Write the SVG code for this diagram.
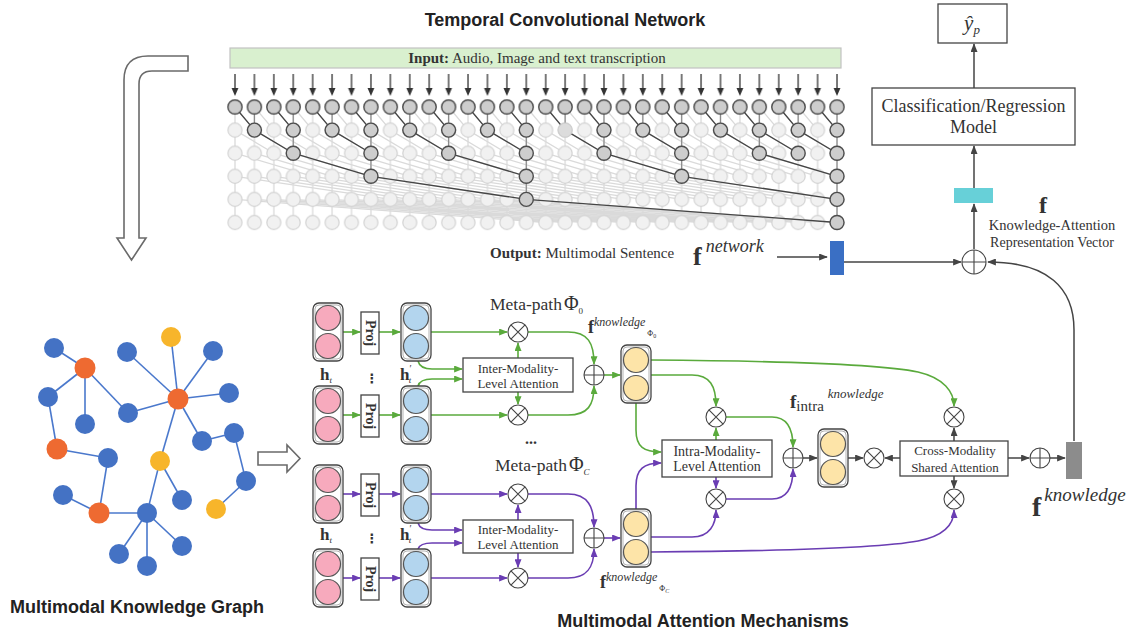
<svg xmlns="http://www.w3.org/2000/svg" width="1134" height="633" viewBox="0 0 1134 633">
<defs>
<style>
.tt{font-family:"Liberation Sans",Arial,sans-serif;font-weight:bold;font-size:18px;fill:#222}
.sf{font-family:"Liberation Serif","Times New Roman",serif;fill:#333}
.box{fill:#fff;stroke:#444;stroke-width:1.3}
.stk{fill:#fff;stroke:#444;stroke-width:1.3}
.stki{fill:none;stroke:#aaa;stroke-width:0.9}
.pk{fill:#f7aabd;stroke:#555;stroke-width:1.2}
.bl{fill:#b3d5ee;stroke:#555;stroke-width:1.2}
.yl{fill:#fde4a8;stroke:#555;stroke-width:1.2}
.op{fill:#fff;stroke:#444;stroke-width:1.1}
.g{fill:none;stroke:#5aaa3c;stroke-width:1.6}
.p{fill:none;stroke:#6a3db3;stroke-width:1.6}
.k{fill:none;stroke:#444;stroke-width:1.5}
.lt{fill:none;stroke:#dadada;stroke-width:1.3}
.dk{fill:none;stroke:#454545;stroke-width:1.3}
.dv{fill:none;stroke:#8a8a8a;stroke-width:1.2}
.dn{fill:#cdcdcd;stroke:#4d4d4d;stroke-width:1.4}
.ge{stroke:#4a78cc;stroke-width:1.6}
.gb{fill:#4472c4}.go{fill:#ee6a31}.gy{fill:#f7b52b}
.hol{fill:#fff;stroke:#6a6a6a;stroke-width:1.6}
</style>
<marker id="ahG" viewBox="0 0 10 8" refX="9" refY="4" markerWidth="9" markerHeight="7" markerUnits="userSpaceOnUse" orient="auto"><path d="M0,0L10,4L0,8z" fill="#5aaa3c"/></marker>
<marker id="ahP" viewBox="0 0 10 8" refX="9" refY="4" markerWidth="9" markerHeight="7" markerUnits="userSpaceOnUse" orient="auto"><path d="M0,0L10,4L0,8z" fill="#6a3db3"/></marker>
<marker id="ahK" viewBox="0 0 10 8" refX="9" refY="4" markerWidth="9" markerHeight="7" markerUnits="userSpaceOnUse" orient="auto"><path d="M0,0L10,4L0,8z" fill="#444"/></marker>
<pattern id="lightNode" patternUnits="userSpaceOnUse" x="225.29" y="95.45" width="19.42" height="23.1"><circle cx="9.71" cy="11.55" r="7" fill="#f1f1f1" stroke="#d3d3d3" stroke-width="1.2"/></pattern>
<pattern id="darkNode" patternUnits="userSpaceOnUse" x="225.29" y="95.45" width="19.42" height="23.1"><circle cx="9.71" cy="11.55" r="7" class="dn"/></pattern>
<pattern id="vLine" patternUnits="userSpaceOnUse" x="225.29" y="107" width="19.42" height="10"><path d="M9.71,0V10" stroke="#dadada" stroke-width="1.3"/></pattern>
<pattern id="inArrow" patternUnits="userSpaceOnUse" x="225.29" y="72" width="19.42" height="27"><path d="M9.71,2V17" stroke="#333" stroke-width="1.3"/><path d="M6.3,16H13.1L9.71,24z" fill="#333"/></pattern>
<circle id="dnode" r="7" class="dn"/>
<g id="frame"><rect width="30" height="58" rx="6" class="stk"/><rect x="2" y="2" width="26" height="54" rx="4" class="stki"/></g>
<g id="otimes"><circle class="op" r="10"/><path d="M-7.07,-7.07L7.07,7.07M-7.07,7.07L7.07,-7.07" stroke="#444" stroke-width="1.1"/></g>
<g id="oplus"><circle class="op" r="10"/><path d="M-10,0H10M0,-10V10" stroke="#444" stroke-width="1.1"/></g>
</defs>

<rect width="1134" height="633" fill="#fff"/>

<!-- Temporal convolutional network -->
<g id="tcn">
<text class="tt" x="565" y="26" text-anchor="middle">Temporal Convolutional Network</text>
<rect x="230" y="48" width="611" height="20" fill="#d9f0cf" stroke="#c2c2c2" stroke-width="1.2"/>
<text class="sf" x="537" y="63" font-size="15" text-anchor="middle" fill="#222"><tspan font-weight="bold">Input:</tspan> Audio, Image and text transcription</text>
<rect x="225.29" y="72" width="621.44" height="27" fill="url(#inArrow)"/>
<!-- full dilated network, background -->
<rect x="225.29" y="107" width="621.44" height="115.5" fill="url(#vLine)"/>
<path class="lt" d="M235,107l19.42,23.1
m0,-23.1l19.42,23.1m0,-23.1l19.42,23.1m0,-23.1l19.42,23.1m0,-23.1l19.42,23.1m0,-23.1l19.42,23.1m0,-23.1l19.42,23.1m0,-23.1l19.42,23.1m0,-23.1l19.42,23.1m0,-23.1l19.42,23.1m0,-23.1l19.42,23.1
m0,-23.1l19.42,23.1m0,-23.1l19.42,23.1m0,-23.1l19.42,23.1m0,-23.1l19.42,23.1m0,-23.1l19.42,23.1m0,-23.1l19.42,23.1m0,-23.1l19.42,23.1m0,-23.1l19.42,23.1m0,-23.1l19.42,23.1m0,-23.1l19.42,23.1
m0,-23.1l19.42,23.1m0,-23.1l19.42,23.1m0,-23.1l19.42,23.1m0,-23.1l19.42,23.1m0,-23.1l19.42,23.1m0,-23.1l19.42,23.1m0,-23.1l19.42,23.1m0,-23.1l19.42,23.1m0,-23.1l19.42,23.1m0,-23.1l19.42,23.1"/>
<path class="lt" d="M235,130.1l38.84,23.1
m-19.42,-23.1l38.84,23.1m-19.42,-23.1l38.84,23.1m-19.42,-23.1l38.84,23.1m-19.42,-23.1l38.84,23.1m-19.42,-23.1l38.84,23.1m-19.42,-23.1l38.84,23.1m-19.42,-23.1l38.84,23.1m-19.42,-23.1l38.84,23.1m-19.42,-23.1l38.84,23.1m-19.42,-23.1l38.84,23.1
m-19.42,-23.1l38.84,23.1m-19.42,-23.1l38.84,23.1m-19.42,-23.1l38.84,23.1m-19.42,-23.1l38.84,23.1m-19.42,-23.1l38.84,23.1m-19.42,-23.1l38.84,23.1m-19.42,-23.1l38.84,23.1m-19.42,-23.1l38.84,23.1m-19.42,-23.1l38.84,23.1m-19.42,-23.1l38.84,23.1
m-19.42,-23.1l38.84,23.1m-19.42,-23.1l38.84,23.1m-19.42,-23.1l38.84,23.1m-19.42,-23.1l38.84,23.1m-19.42,-23.1l38.84,23.1m-19.42,-23.1l38.84,23.1m-19.42,-23.1l38.84,23.1m-19.42,-23.1l38.84,23.1m-19.42,-23.1l38.84,23.1"/>
<path class="lt" d="M235,153.2l77.68,23.1
m-58.26,-23.1l77.68,23.1m-58.26,-23.1l77.68,23.1m-58.26,-23.1l77.68,23.1m-58.26,-23.1l77.68,23.1m-58.26,-23.1l77.68,23.1m-58.26,-23.1l77.68,23.1m-58.26,-23.1l77.68,23.1m-58.26,-23.1l77.68,23.1m-58.26,-23.1l77.68,23.1m-58.26,-23.1l77.68,23.1
m-58.26,-23.1l77.68,23.1m-58.26,-23.1l77.68,23.1m-58.26,-23.1l77.68,23.1m-58.26,-23.1l77.68,23.1m-58.26,-23.1l77.68,23.1m-58.26,-23.1l77.68,23.1m-58.26,-23.1l77.68,23.1m-58.26,-23.1l77.68,23.1m-58.26,-23.1l77.68,23.1m-58.26,-23.1l77.68,23.1
m-58.26,-23.1l77.68,23.1m-58.26,-23.1l77.68,23.1m-58.26,-23.1l77.68,23.1m-58.26,-23.1l77.68,23.1m-58.26,-23.1l77.68,23.1m-58.26,-23.1l77.68,23.1m-58.26,-23.1l77.68,23.1"/>
<path class="lt" d="M235,176.3l155.36,23.1
m-135.94,-23.1l155.36,23.1m-135.94,-23.1l155.36,23.1m-135.94,-23.1l155.36,23.1m-135.94,-23.1l155.36,23.1m-135.94,-23.1l155.36,23.1m-135.94,-23.1l155.36,23.1m-135.94,-23.1l155.36,23.1m-135.94,-23.1l155.36,23.1m-135.94,-23.1l155.36,23.1m-135.94,-23.1l155.36,23.1
m-135.94,-23.1l155.36,23.1m-135.94,-23.1l155.36,23.1m-135.94,-23.1l155.36,23.1m-135.94,-23.1l155.36,23.1m-135.94,-23.1l155.36,23.1m-135.94,-23.1l155.36,23.1m-135.94,-23.1l155.36,23.1m-135.94,-23.1l155.36,23.1m-135.94,-23.1l155.36,23.1m-135.94,-23.1l155.36,23.1
m-135.94,-23.1l155.36,23.1m-135.94,-23.1l155.36,23.1m-135.94,-23.1l155.36,23.1"/>
<path class="lt" d="M235,199.4l310.72,23.1
m-291.3,-23.1l310.72,23.1m-291.3,-23.1l310.72,23.1m-291.3,-23.1l310.72,23.1m-291.3,-23.1l310.72,23.1m-291.3,-23.1l310.72,23.1m-291.3,-23.1l310.72,23.1m-291.3,-23.1l310.72,23.1m-291.3,-23.1l310.72,23.1m-291.3,-23.1l310.72,23.1m-291.3,-23.1l310.72,23.1
m-291.3,-23.1l310.72,23.1m-291.3,-23.1l310.72,23.1m-291.3,-23.1l310.72,23.1m-291.3,-23.1l310.72,23.1m-291.3,-23.1l310.72,23.1"/>
<rect x="225.29" y="95.45" width="621.44" height="138.6" fill="url(#lightNode)"/>
<!-- receptive-field path -->
<path class="dv" d="M254.42,107v23.1
m38.84,-23.1v23.1m38.84,-23.1v23.1m38.84,-23.1v23.1m38.84,-23.1v23.1m38.84,-23.1v23.1m38.84,-23.1v23.1m38.84,-23.1v23.1m38.84,-23.1v23.1m38.84,-23.1v23.1m38.84,-23.1v23.1
m38.84,-23.1v23.1m38.84,-23.1v23.1m38.84,-23.1v23.1m38.84,-23.1v23.1m38.84,-23.1v23.1
M293.26,130.1v23.1m77.68,-23.1v23.1m77.68,-23.1v23.1m77.68,-23.1v23.1m77.68,-23.1v23.1m77.68,-23.1v23.1m77.68,-23.1v23.1m77.68,-23.1v23.1
M370.94,153.2v23.1m155.36,-23.1v23.1m155.36,-23.1v23.1m155.36,-23.1v23.1
M526.3,176.3v23.1M837.02,176.3v23.1M837.02,199.4v23.1"/>
<path class="dk" d="M235,107l19.42,23.1
m19.42,-23.1l19.42,23.1m19.42,-23.1l19.42,23.1m19.42,-23.1l19.42,23.1m19.42,-23.1l19.42,23.1m19.42,-23.1l19.42,23.1m19.42,-23.1l19.42,23.1m19.42,-23.1l19.42,23.1m19.42,-23.1l19.42,23.1m19.42,-23.1l19.42,23.1m19.42,-23.1l19.42,23.1
m19.42,-23.1l19.42,23.1m19.42,-23.1l19.42,23.1m19.42,-23.1l19.42,23.1m19.42,-23.1l19.42,23.1m19.42,-23.1l19.42,23.1
M254.42,130.1l38.84,23.1m38.84,-23.1l38.84,23.1m38.84,-23.1l38.84,23.1m38.84,-23.1l38.84,23.1m38.84,-23.1l38.84,23.1m38.84,-23.1l38.84,23.1m38.84,-23.1l38.84,23.1m38.84,-23.1l38.84,23.1
M293.26,153.2l77.68,23.1m77.68,-23.1l77.68,23.1m77.68,-23.1l77.68,23.1m77.68,-23.1l77.68,23.1
M370.94,176.3l155.36,23.1m155.36,-23.1l155.36,23.1
M526.3,199.4L837.02,222.5
M759.34,130.1L798.18,153.2"/>
<rect x="225.29" y="95.45" width="621.44" height="23.1" fill="url(#darkNode)"/>
<use href="#dnode" x="254.42" y="130.1"/><use href="#dnode" x="293.26" y="130.1"/><use href="#dnode" x="332.1" y="130.1"/><use href="#dnode" x="370.94" y="130.1"/>
<use href="#dnode" x="409.78" y="130.1"/><use href="#dnode" x="448.62" y="130.1"/><use href="#dnode" x="487.46" y="130.1"/><use href="#dnode" x="526.3" y="130.1"/>
<circle cx="565.14" cy="130.1" r="7" fill="#dcdcdc" stroke="#cfcfcf" stroke-width="1.2"/>
<use href="#dnode" x="603.98" y="130.1"/><use href="#dnode" x="642.82" y="130.1"/><use href="#dnode" x="681.66" y="130.1"/><use href="#dnode" x="720.5" y="130.1"/>
<use href="#dnode" x="759.34" y="130.1"/><use href="#dnode" x="798.18" y="130.1"/><use href="#dnode" x="837.02" y="130.1"/>
<use href="#dnode" x="293.26" y="153.2"/><use href="#dnode" x="370.94" y="153.2"/><use href="#dnode" x="448.62" y="153.2"/><use href="#dnode" x="526.3" y="153.2"/>
<use href="#dnode" x="603.98" y="153.2"/><use href="#dnode" x="681.66" y="153.2"/><use href="#dnode" x="759.34" y="153.2"/><use href="#dnode" x="798.18" y="153.2"/><use href="#dnode" x="837.02" y="153.2"/>
<use href="#dnode" x="370.94" y="176.3"/><use href="#dnode" x="526.3" y="176.3"/><use href="#dnode" x="681.66" y="176.3"/><use href="#dnode" x="837.02" y="176.3"/>
<use href="#dnode" x="526.3" y="199.4"/><use href="#dnode" x="837.02" y="199.4"/>
<use href="#dnode" x="837.02" y="222.5"/>
<text class="sf" x="490" y="258" font-size="15" fill="#222"><tspan font-weight="bold">Output:</tspan> Multimodal Sentence</text>
<text class="sf" x="693" y="265" fill="#111"><tspan font-weight="bold" font-size="26">f</tspan><tspan font-style="italic" font-size="18" dx="4" dy="-13">network</tspan></text>
</g>

<!-- bent hollow arrow from the network down to the graph -->
<g id="arrow-down">
<path class="hol" d="M188,56H148Q124,56 124,80V238H117L131.5,260L146,238H139V84Q139,71 152,71H188Z"/>
</g>

<!-- knowledge graph -->
<g id="knowledge-graph">
<g class="ge">
<line x1="54" y1="348" x2="85" y2="368"/><line x1="85" y1="368" x2="48" y2="397"/><line x1="85" y1="368" x2="85" y2="424"/>
<line x1="85" y1="368" x2="128" y2="413"/><line x1="128" y1="413" x2="178" y2="399"/><line x1="127" y1="352" x2="178" y2="399"/>
<line x1="171" y1="337" x2="178" y2="399"/><line x1="213" y1="351" x2="178" y2="399"/><line x1="229" y1="393" x2="178" y2="399"/>
<line x1="178" y1="399" x2="202" y2="441"/><line x1="178" y1="399" x2="160" y2="461"/><line x1="202" y1="441" x2="234" y2="433"/>
<line x1="234" y1="433" x2="246" y2="481"/><line x1="246" y1="481" x2="216" y2="509"/><line x1="48" y1="397" x2="57" y2="449"/>
<line x1="57" y1="449" x2="108" y2="458"/><line x1="108" y1="458" x2="99" y2="513"/><line x1="63" y1="495" x2="99" y2="513"/>
<line x1="99" y1="513" x2="147" y2="513"/><line x1="160" y1="461" x2="147" y2="513"/><line x1="160" y1="461" x2="182" y2="500"/>
<line x1="147" y1="513" x2="119" y2="554"/><line x1="147" y1="513" x2="147" y2="566"/><line x1="147" y1="513" x2="182" y2="546"/>
</g>
<circle class="gb" cx="54" cy="348" r="10"/><circle class="go" cx="85" cy="368" r="10.5"/><circle class="gb" cx="48" cy="397" r="10"/>
<circle class="gb" cx="85" cy="424" r="10"/><circle class="gb" cx="128" cy="413" r="10"/><circle class="gb" cx="127" cy="352" r="10"/>
<circle class="gy" cx="171" cy="337" r="10"/><circle class="gb" cx="213" cy="351" r="10"/><circle class="go" cx="178" cy="399" r="10.5"/>
<circle class="gb" cx="229" cy="393" r="10"/><circle class="gb" cx="202" cy="441" r="10"/><circle class="gb" cx="234" cy="433" r="10"/>
<circle class="go" cx="57" cy="449" r="10.5"/><circle class="gb" cx="108" cy="458" r="10"/><circle class="gy" cx="160" cy="461" r="10"/>
<circle class="gb" cx="246" cy="481" r="10"/><circle class="gy" cx="216" cy="509" r="10"/><circle class="gb" cx="182" cy="500" r="10"/>
<circle class="gb" cx="63" cy="495" r="10"/><circle class="go" cx="99" cy="513" r="10.5"/><circle class="gb" cx="147" cy="513" r="10"/>
<circle class="gb" cx="119" cy="554" r="10"/><circle class="gb" cx="147" cy="566" r="10"/><circle class="gb" cx="182" cy="546" r="10"/>
<text class="tt" x="10" y="613">Multimodal  Knowledge Graph</text>
</g>

<g id="arrow-right">
<path class="hol" d="M258,452H287V445L300,458.5L287,472V465H258Z"/>
</g>

<!-- connectors -->
<g id="connectors">
<g class="g" marker-end="url(#ahG)">
<path d="M343,332H360"/><path d="M379,332H400"/><path d="M343,415H360"/><path d="M379,415H400"/>
<path d="M431,332H507"/><path d="M431,415H507"/>
<path d="M418,361Q420,369 432,369H462"/><path d="M418,386Q420,379 432,379H462"/>
<path d="M518,358V343"/><path d="M518,392V404"/>
<path d="M528,332H568C588,332 594,343 594,364"/><path d="M528,415H568C588,415 594,405 594,386"/>
<path d="M604,375H620"/>
<path d="M651,375H692C710,375 716,386 716,406"/>
<path d="M636,403V430C636,447 644,452 661,452"/>
<path d="M716,440V428"/>
<path d="M726,417H772C788,417 793,430 793,447"/>
<path d="M651,360C790,361 880,364 918,372C944,378 954,392 954,406"/>
</g>
<g class="p" marker-end="url(#ahP)">
<path d="M343,494H360"/><path d="M379,494H400"/><path d="M343,578H360"/><path d="M379,578H400"/>
<path d="M431,494H507"/><path d="M431,578H507"/>
<path d="M418,523Q420,530 432,530H462"/><path d="M418,549Q420,543 432,543H462"/>
<path d="M518,520V505"/><path d="M518,553V567"/>
<path d="M528,494H568C588,494 594,507 594,527"/><path d="M528,578H568C588,578 594,566 594,549"/>
<path d="M604,538H620"/>
<path d="M636,509V486C636,469 644,463 661,463"/>
<path d="M651,537H692C710,537 716,524 716,510"/>
<path d="M716,477V488"/>
<path d="M726,499H772C788,499 793,486 793,469"/>
<path d="M651,552C790,551 880,548 918,541C944,536 954,524 954,510"/>
</g>
<g class="k" marker-end="url(#ahK)">
<path d="M803,458H817"/><path d="M848,458H863"/><path d="M900,458H885"/>
<path d="M954,441V428"/><path d="M954,476V488"/>
<path d="M1008,458H1029"/><path d="M1050,458H1065"/>
<path d="M1074,441V330C1074,288 1048,262 988,262"/>
<path d="M777,257H827"/>
<path d="M844,262H961"/>
<path d="M974,249V204"/><path d="M974,188V146"/><path d="M974,88V44"/>
</g>
</g>

<!-- meta-path Φ0 branch -->
<g id="pink-1" transform="translate(313,303)"><use href="#frame"/><circle cx="15" cy="15" r="12.5" class="pk"/><circle cx="15" cy="43" r="12.5" class="pk"/></g>
<g id="pink-2" transform="translate(313,386)"><use href="#frame"/><circle cx="15" cy="15" r="12.5" class="pk"/><circle cx="15" cy="43" r="12.5" class="pk"/></g>
<g id="blue-1" transform="translate(401,303)"><use href="#frame"/><circle cx="15" cy="15" r="12.5" class="bl"/><circle cx="15" cy="43" r="12.5" class="bl"/></g>
<g id="blue-2" transform="translate(401,386)"><use href="#frame"/><circle cx="15" cy="15" r="12.5" class="bl"/><circle cx="15" cy="43" r="12.5" class="bl"/></g>
<g id="proj-1"><rect class="box" x="361" y="312" width="18" height="42"/><text class="sf" transform="translate(370,333) rotate(90)" text-anchor="middle" dominant-baseline="central" font-weight="bold" font-size="14" fill="#222">Proj</text></g>
<g id="proj-2"><rect class="box" x="361" y="395" width="18" height="42"/><text class="sf" transform="translate(370,416) rotate(90)" text-anchor="middle" dominant-baseline="central" font-weight="bold" font-size="14" fill="#222">Proj</text></g>
<g id="labels-1">
<text class="sf" x="320" y="380" fill="#222"><tspan font-weight="bold" font-size="17">h</tspan><tspan font-style="italic" font-size="9" dy="3">t</tspan></text>
<text x="372" y="383" text-anchor="middle" font-family="DejaVu Sans, sans-serif" font-size="13" font-weight="bold" fill="#333">⋮</text>
<text class="sf" x="400" y="380" fill="#222"><tspan font-weight="bold" font-size="17">h</tspan><tspan font-size="10" dy="-8">′</tspan><tspan font-style="italic" font-size="9" dx="-3" dy="11">t</tspan></text>
<text class="sf" x="490" y="310" font-size="17.5">Meta-path<tspan font-size="20" dx="2">Φ</tspan><tspan font-size="9" dy="4">0</tspan></text>
<text class="sf" x="588" y="333" fill="#222"><tspan font-weight="bold" font-size="18">f</tspan><tspan font-style="italic" font-size="12" dy="-7">knowledge</tspan><tspan font-size="8" dx="2" dy="10">Φ</tspan><tspan font-size="6" dy="2">0</tspan></text>
<text class="sf" x="531" y="444" text-anchor="middle" font-size="16" font-weight="bold" fill="#333">...</text>
</g>
<g id="inter-1"><rect class="box" x="463" y="358" width="110" height="34"/><text class="sf" x="518" y="373" text-anchor="middle" font-size="13">Inter-Modality-</text><text class="sf" x="518" y="388" text-anchor="middle" font-size="13">Level Attention</text></g>
<use id="mul-1" href="#otimes" x="518" y="332"/>
<use id="mul-2" href="#otimes" x="518" y="415"/>
<use id="add-1" href="#oplus" x="594" y="375"/>
<g id="yellow-1" transform="translate(621,345)"><use href="#frame"/><circle cx="15" cy="15" r="12.5" class="yl"/><circle cx="15" cy="43" r="12.5" class="yl"/></g>

<!-- meta-path ΦC branch -->
<g id="pink-3" transform="translate(313,465)"><use href="#frame"/><circle cx="15" cy="15" r="12.5" class="pk"/><circle cx="15" cy="43" r="12.5" class="pk"/></g>
<g id="pink-4" transform="translate(313,549)"><use href="#frame"/><circle cx="15" cy="15" r="12.5" class="pk"/><circle cx="15" cy="43" r="12.5" class="pk"/></g>
<g id="blue-3" transform="translate(401,465)"><use href="#frame"/><circle cx="15" cy="15" r="12.5" class="bl"/><circle cx="15" cy="43" r="12.5" class="bl"/></g>
<g id="blue-4" transform="translate(401,549)"><use href="#frame"/><circle cx="15" cy="15" r="12.5" class="bl"/><circle cx="15" cy="43" r="12.5" class="bl"/></g>
<g id="proj-3"><rect class="box" x="361" y="474" width="18" height="42"/><text class="sf" transform="translate(370,495) rotate(90)" text-anchor="middle" dominant-baseline="central" font-weight="bold" font-size="14" fill="#222">Proj</text></g>
<g id="proj-4"><rect class="box" x="361" y="558" width="18" height="42"/><text class="sf" transform="translate(370,579) rotate(90)" text-anchor="middle" dominant-baseline="central" font-weight="bold" font-size="14" fill="#222">Proj</text></g>
<g id="labels-2">
<text class="sf" x="320" y="540" fill="#222"><tspan font-weight="bold" font-size="17">h</tspan><tspan font-style="italic" font-size="9" dy="3">t</tspan></text>
<text x="372" y="543" text-anchor="middle" font-family="DejaVu Sans, sans-serif" font-size="13" font-weight="bold" fill="#333">⋮</text>
<text class="sf" x="400" y="540" fill="#222"><tspan font-weight="bold" font-size="17">h</tspan><tspan font-size="10" dy="-8">′</tspan><tspan font-style="italic" font-size="9" dx="-3" dy="11">t</tspan></text>
<text class="sf" x="495" y="471" font-size="17.5">Meta-path<tspan font-size="20" dx="2">Φ</tspan><tspan font-style="italic" font-size="9" dy="4">C</tspan></text>
<text class="sf" x="600" y="588" fill="#222"><tspan font-weight="bold" font-size="18">f</tspan><tspan font-style="italic" font-size="12" dy="-7">knowledge</tspan><tspan font-size="8" dx="2" dy="10">Φ</tspan><tspan font-style="italic" font-size="6" dy="2">C</tspan></text>
</g>
<g id="inter-2"><rect class="box" x="463" y="520" width="110" height="33"/><text class="sf" x="518" y="534" text-anchor="middle" font-size="13">Inter-Modality-</text><text class="sf" x="518" y="549" text-anchor="middle" font-size="13">Level Attention</text></g>
<use id="mul-3" href="#otimes" x="518" y="494"/>
<use id="mul-4" href="#otimes" x="518" y="578"/>
<use id="add-2" href="#oplus" x="594" y="538"/>
<g id="yellow-2" transform="translate(621,509)"><use href="#frame"/><circle cx="15" cy="15" r="12.5" class="yl"/><circle cx="15" cy="43" r="12.5" class="yl"/></g>

<!-- intra-modality fusion -->
<g id="intra"><rect class="box" x="662" y="440" width="110" height="37"/><text class="sf" x="717" y="456" text-anchor="middle" font-size="14">Intra-Modality-</text><text class="sf" x="717" y="471" text-anchor="middle" font-size="14">Level Attention</text></g>
<use id="mul-5" href="#otimes" x="716" y="417"/>
<use id="mul-6" href="#otimes" x="716" y="499"/>
<use id="add-3" href="#oplus" x="793" y="458"/>
<g id="yellow-intra" transform="translate(818,429)"><use href="#frame"/><circle cx="15" cy="15" r="12.5" class="yl"/><circle cx="15" cy="43" r="12.5" class="yl"/></g>
<text class="sf" x="790" y="408" fill="#222"><tspan font-weight="bold" font-size="19">f</tspan><tspan font-size="15" dy="3">intra</tspan><tspan font-style="italic" font-size="13" dx="4" dy="-13">knowledge</tspan></text>

<!-- cross-modality fusion -->
<use id="mul-7" href="#otimes" x="874" y="458"/>
<g id="cross"><rect class="box" x="900" y="441" width="108" height="35"/><text class="sf" x="955" y="455" text-anchor="middle" font-size="13">Cross-Modality</text><text class="sf" x="955" y="472" text-anchor="middle" font-size="13">Shared Attention</text></g>
<use id="mul-8" href="#otimes" x="954" y="417"/>
<use id="mul-9" href="#otimes" x="954" y="499"/>
<use id="add-4" href="#oplus" x="1040" y="458"/>
<g id="f-knowledge"><rect x="1066" y="442" width="16" height="37" fill="#8c8c8c"/>
<text class="sf" x="1032" y="516" fill="#222"><tspan font-weight="bold" font-size="28">f</tspan><tspan font-style="italic" font-size="19" dx="3" dy="-15">knowledge</tspan></text></g>

<!-- output head -->
<g id="f-network"><rect x="830" y="241" width="14" height="34" fill="#3a6fc4"/></g>
<g id="sum-top"><circle cx="974" cy="262" r="12" class="op"/><path d="M962,262H986M974,250V274" stroke="#444" stroke-width="1.1"/></g>
<g id="f-vector"><rect x="954" y="188" width="39" height="15" fill="#67d0d8"/>
<text class="sf" x="1043" y="213" text-anchor="middle" font-weight="bold" font-size="24" fill="#222">f</text>
<text class="sf" x="1052" y="230" text-anchor="middle" font-size="14.5">Knowledge-Attention</text>
<text class="sf" x="1052" y="247" text-anchor="middle" font-size="14">Representation Vector</text></g>
<g id="classifier"><rect class="box" x="872" y="88" width="203" height="57"/><text class="sf" x="973.5" y="112" text-anchor="middle" font-size="18">Classification/Regression</text><text class="sf" x="973.5" y="133" text-anchor="middle" font-size="18">Model</text></g>
<g id="prediction"><rect class="box" x="938" y="4" width="69" height="39"/><text class="sf" x="972" y="30" text-anchor="middle" font-style="italic" font-size="21" fill="#222">ŷ<tspan font-size="13" dy="4">p</tspan></text></g>

<text class="tt" x="703" y="627" text-anchor="middle">Multimodal Attention Mechanisms</text>
</svg>
